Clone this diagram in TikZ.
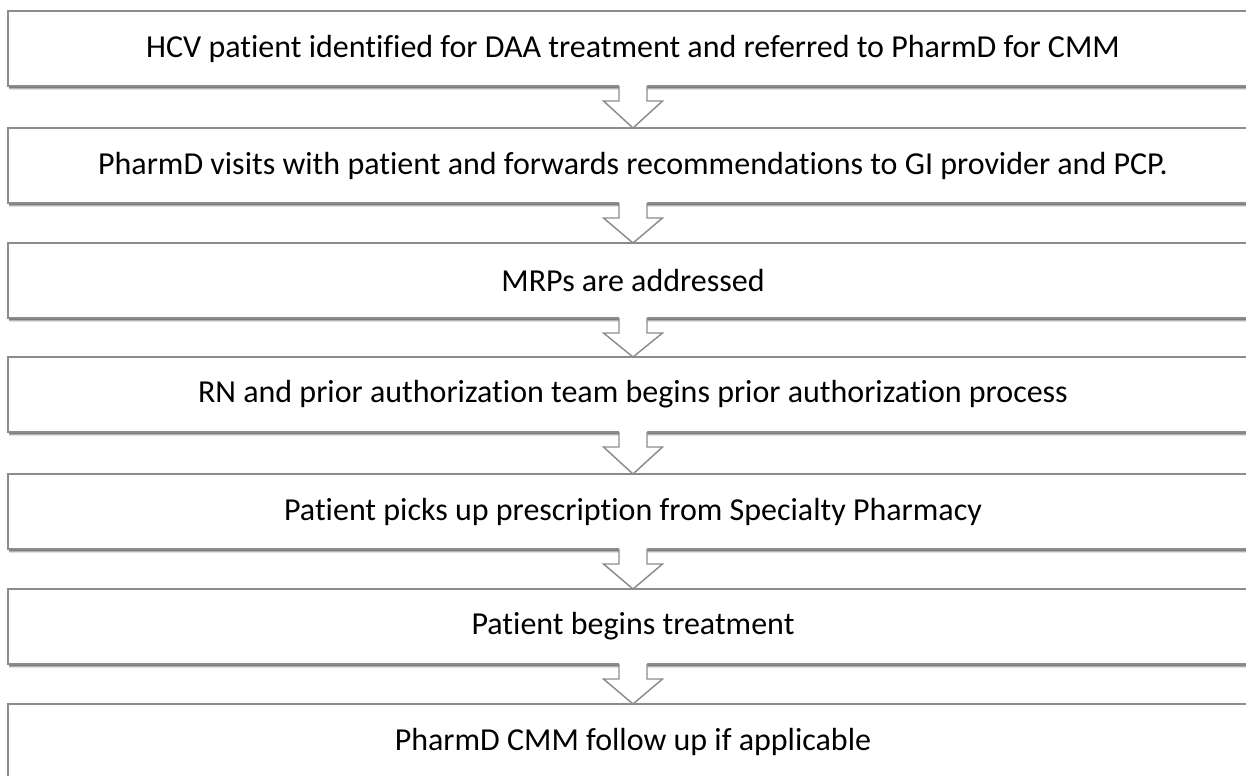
\documentclass[tikz,border=0pt]{standalone}
\usepackage{fontspec}
\setmainfont[Ligatures=NoCommon]{Carlito}
\usetikzlibrary{shadows,calc}
\definecolor{boxgray}{RGB}{140,140,140}
\begin{document}
\begin{tikzpicture}[x=0.75pt,y=-0.75pt,
  stepbox/.style={draw=boxgray, line width=1.1pt, fill=white,
    minimum width=937.5pt, minimum height=56.25pt, inner sep=0pt, outer sep=0pt,
    font=\fontsize{24}{28}\selectfont,
    drop shadow={shadow xshift=0.8pt, shadow yshift=-3pt, opacity=0.12, fill=black},
    drop shadow={shadow xshift=0.6pt, shadow yshift=-2pt, opacity=0.2, fill=black},
    drop shadow={shadow xshift=0.4pt, shadow yshift=-1.2pt, opacity=0.3, fill=black}},
  arrowline/.style={draw=boxgray, line width=1.1pt, line join=miter}]
\useasboundingbox (0,0) rectangle (1246,775);
\node[stepbox] (b1) at (633,48.5) {HCV patient identified for DAA treatment and referred to PharmD for CMM};
\node[stepbox] (b2) at (633,165.5) {PharmD visits with patient and forwards recommendations to GI provider and PCP.};
\node[stepbox] (b3) at (633,280.5) {MRPs are addressed};
\node[stepbox] (b4) at (633,394.5) {RN and prior authorization team begins prior authorization process};
\node[stepbox] (b5) at (633,511.5) {Patient picks up prescription from Specialty Pharmacy};
\node[stepbox] (b6) at (633,626.5) {Patient begins treatment};
\node[stepbox] (b7) at (633,741.5) {PharmD CMM follow up if applicable};
\foreach \a/\b in {b1/b2,b2/b3,b3/b4,b4/b5,b5/b6,b6/b7}{
  \fill[white] ($(\a.south)+(-14,-1.5)$) -- ($(\a.south)+(-14,15)$) -- ($(\a.south)+(-29.5,15)$)
     -- (\b.north) -- ($(\a.south)+(29.5,15)$) -- ($(\a.south)+(14,15)$) -- ($(\a.south)+(14,-1.5)$) -- cycle;
  \draw[arrowline] ($(\a.south)+(-14,0)$) -- ($(\a.south)+(-14,15)$) -- ($(\a.south)+(-29.5,15)$)
     -- (\b.north) -- ($(\a.south)+(29.5,15)$) -- ($(\a.south)+(14,15)$) -- ($(\a.south)+(14,0)$);
}
\end{tikzpicture}
\end{document}
